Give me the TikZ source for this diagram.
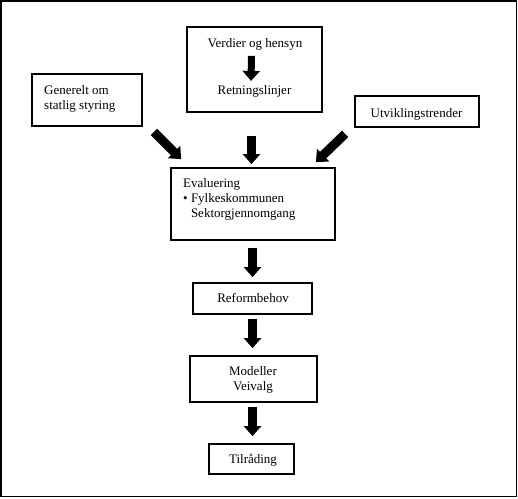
\documentclass[tikz,border=0pt]{standalone}
\usepackage{fontspec}
\setmainfont{Liberation Serif}
\usetikzlibrary{arrows.meta}
\begin{document}
\begin{tikzpicture}[x=1pt,y=-1pt,
  box/.style={draw,line width=1.8pt,inner sep=0pt,fill=white},
  txt/.style={inner sep=0pt,font=\fontsize{13}{15}\selectfont},
  fat/.style={line width=9pt,-{Triangle[width=17pt,length=10pt]}},
  thin arrow/.style={line width=7pt,-{Triangle[width=17pt,length=10pt]}}]
\useasboundingbox (0,0) rectangle (518,498);
\draw[line width=1.8pt] (1,1) rectangle (516.5,496.5);
% boxes
\node[box,minimum width=135pt,minimum height=85pt] (verdier) at (254.5,69.5) {};
\node[box,minimum width=110pt,minimum height=52pt] (gen) at (87,100) {};
\node[box,minimum width=124pt,minimum height=31pt] (utv) at (417,111.5) {};
\node[box,minimum width=164pt,minimum height=72pt] (eval) at (253,204) {};
\node[box,minimum width=119pt,minimum height=31pt] (reform) at (252.5,298.5) {};
\node[box,minimum width=127pt,minimum height=46pt] (modell) at (253.5,379) {};
\node[box,minimum width=85pt,minimum height=30pt] (tilr) at (251.5,459) {};
% texts
\node[txt,anchor=base] (t1) at (255,47) {Verdier og hensyn};
\node[txt,anchor=base] (t2) at (254.5,94) {Retningslinjer};
\node[txt,anchor=base west] (g1) at (44,94) {Generelt om};
\node[txt,anchor=base west] (g2) at (44,109) {statlig styring};
\node[txt,anchor=base] (u1) at (416.5,117) {Utviklingstrender};
\node[txt,anchor=base west] (e1) at (183,187) {Evaluering};
\node[txt,anchor=base west] (e2) at (183,202) {\textbullet\ Fylkeskommunen};
\node[txt,anchor=base west] (e3) at (183,217) {\hphantom{\textbullet\ }Sektorgjennomgang};
\node[txt,anchor=base] (r1) at (253,302) {Reformbehov};
\node[txt,anchor=base] (m1) at (253,375) {Modeller};
\node[txt,anchor=base] (m2) at (253,390) {Veivalg};
\node[txt,anchor=base] (ti1) at (253,463) {Tilråding};
% arrows
\draw[thin arrow] ([xshift=-3.5pt,yshift=-12pt]t1.center) -- ([xshift=-3.5pt,yshift=10pt]t2.center);
\draw[fat] ([xshift=-3pt,yshift=-23pt]verdier.south) -- ([xshift=-1.5pt,yshift=3pt]eval.north);
\draw[fat] ([xshift=11pt,yshift=-5pt]gen.south east) -- ([xshift=11pt,yshift=8pt]eval.north west);
\draw[fat] ([xshift=-9pt,yshift=-6pt]utv.south west) -- ([xshift=-20pt,yshift=5pt]eval.north east);
\draw[fat] ([xshift=-0.5pt,yshift=-7pt]eval.south) -- ([yshift=5pt]reform.north);
\draw[fat] ([yshift=-4pt]reform.south) -- ([xshift=-1pt,yshift=7pt]modell.north);
\draw[fat] ([xshift=-1pt,yshift=-4pt]modell.south) -- ([xshift=1pt,yshift=7pt]tilr.north);
\end{tikzpicture}
\end{document}
